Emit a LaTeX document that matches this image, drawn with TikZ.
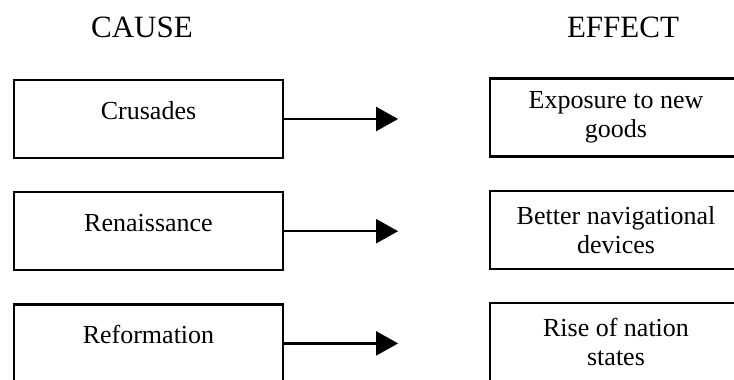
\documentclass[tikz,border=0pt]{standalone}
\usepackage{fontspec}
\setmainfont{Liberation Serif}
\usetikzlibrary{arrows.meta,positioning}
\tikzset{
  causebox/.style ={draw,line width=2.2pt,minimum width=269pt,minimum height=78pt,
                    inner sep=0pt,text height=14pt,text depth=14pt,
                    font=\fontsize{26}{29}\selectfont},
  effectbox/.style={draw,line width=2.2pt,minimum width=252pt,minimum height=78pt,
                    align=center,font=\fontsize{26}{29}\selectfont},
  head/.style     ={font=\fontsize{31}{36}\selectfont},
  leads/.style    ={-{Triangle[length=22pt,width=24pt]},line width=2.2pt}
}
\begin{document}
\begin{tikzpicture}[x=1pt,y=-1pt,node distance=32pt]
  \useasboundingbox (0,0) rectangle (734,380);
  \node[head] (cause) at (142,27) {CAUSE};
  \node[head] (effect) at (623,27) {EFFECT};
  % causes
  \node[causebox] (crus) at (148.5,119) {Crusades};
  \node[causebox,below=of crus] (ren) {Renaissance};
  \node[causebox,below=of ren] (ref) {Reformation};
  % effects
  \node[effectbox] (goods) at (616,117.5) {Exposure to new\\goods};
  \node[effectbox,below=of goods] (nav) {Better navigational\\devices};
  \node[effectbox,below=of nav] (nation) {Rise of nation\\states};
  % arrows
  \coordinate[right=114pt of crus] (crusend);
  \coordinate[right=114pt of ren] (renend);
  \coordinate[right=114pt of ref] (refend);
  \draw[leads] (crus) -- (crusend);
  \draw[leads] (ren) -- (renend);
  \draw[leads] (ref) -- (refend);
\end{tikzpicture}
\end{document}
